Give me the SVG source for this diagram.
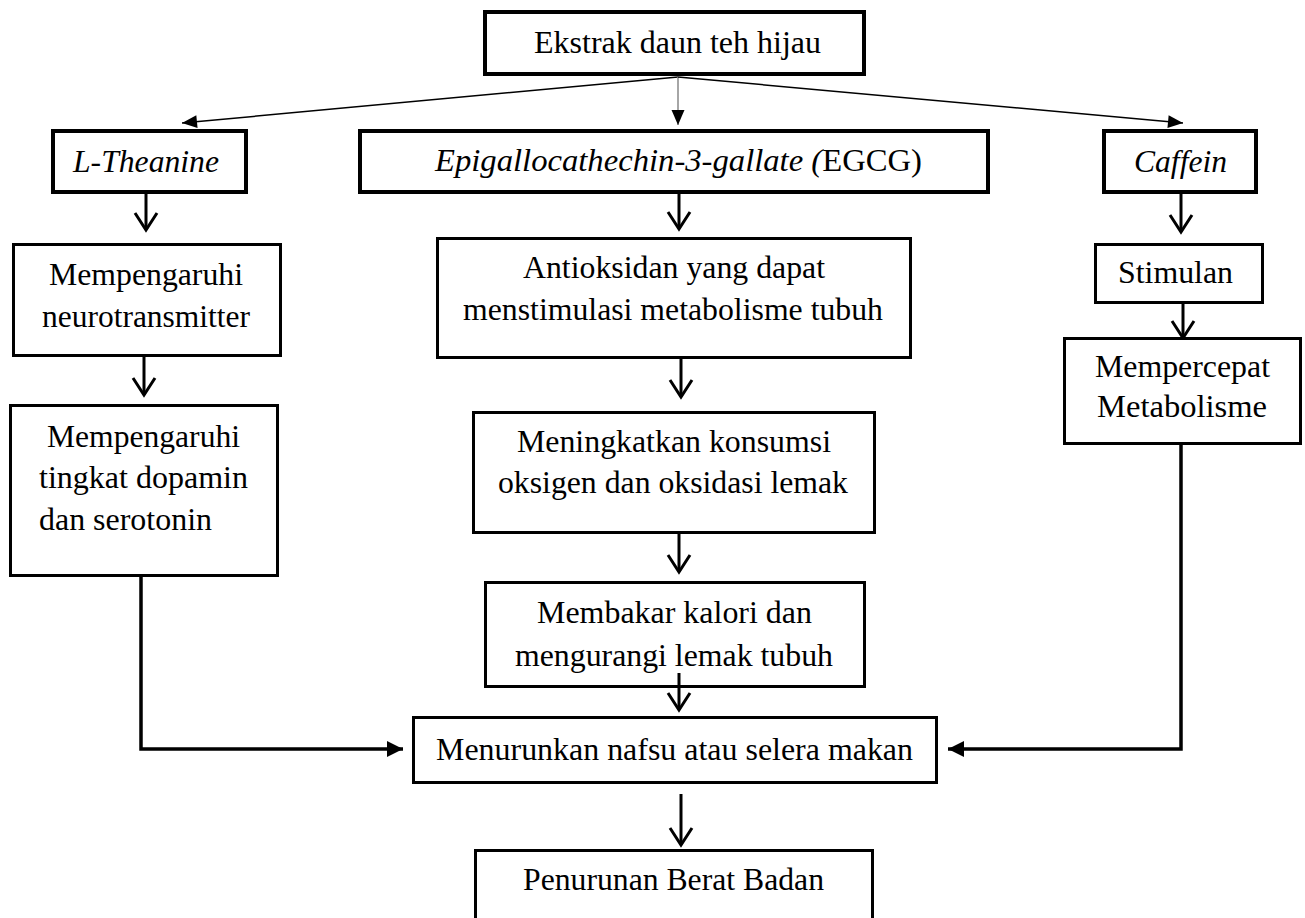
<svg xmlns="http://www.w3.org/2000/svg" width="1305" height="918" viewBox="0 0 1305 918">
<style>
.box{fill:#fff;stroke:#000;stroke-width:3}
.bx4{fill:#fff;stroke:#000;stroke-width:4}
.t{font-family:"Liberation Serif","Times New Roman",serif;font-size:31px;fill:#000}
.it{font-style:italic}
.thin{stroke:#000;stroke-width:1.5;fill:none}
.v{stroke:#000;stroke-width:3;fill:none}
.el{stroke:#000;stroke-width:3.5;fill:none}
</style>
<defs>
<marker id="tri" markerUnits="userSpaceOnUse" viewBox="-16 -8 17 16" markerWidth="17" markerHeight="16" refX="0" refY="0" orient="auto" overflow="visible"><path d="M-15,-6.5 L0,0 L-15,6.5 Z" fill="#000"/></marker>
<marker id="triL" markerUnits="userSpaceOnUse" viewBox="-17 -9 18 18" markerWidth="18" markerHeight="18" refX="0" refY="0" orient="auto" overflow="visible"><path d="M-16,-8 L0,0 L-16,8 Z" fill="#000"/></marker>
<marker id="vee" markerUnits="userSpaceOnUse" viewBox="-20 -14 22 28" markerWidth="22" markerHeight="28" refX="0" refY="0" orient="auto" overflow="visible"><path d="M-17,-11 L0,0 L-17,11" fill="none" stroke="#000" stroke-width="3"/></marker>
</defs>

<g id="connectors">
<line class="thin" x1="678" y1="77" x2="182" y2="123" marker-end="url(#tri)"/>
<line x1="678" y1="77" x2="678" y2="125" stroke="#888" stroke-width="1.5" marker-end="url(#tri)"/>
<line class="thin" x1="678" y1="77" x2="1183" y2="123" marker-end="url(#tri)"/>
<line class="v" x1="146" y1="194" x2="146" y2="230" marker-end="url(#vee)"/>
<line class="v" x1="679" y1="194" x2="679" y2="229" marker-end="url(#vee)"/>
<line class="v" x1="1181" y1="194" x2="1181" y2="232" marker-end="url(#vee)"/>
<line class="v" x1="144" y1="357" x2="144" y2="395" marker-end="url(#vee)"/>
<line class="v" x1="681" y1="359" x2="681" y2="397" marker-end="url(#vee)"/>
<line class="v" x1="679" y1="534" x2="679" y2="572" marker-end="url(#vee)"/>
<line class="v" x1="1183" y1="304" x2="1183" y2="338" marker-end="url(#vee)"/>
<line class="v" x1="681" y1="794" x2="681" y2="845" stroke-width="2.5" marker-end="url(#vee)"/>
<path class="el" d="M141,562 V749 H403" marker-end="url(#triL)"/>
<path class="el" d="M1181,445 V749 H948" marker-end="url(#triL)"/>
</g>

<g id="n-ekstrak"><rect class="bx4" x="485" y="12" width="379" height="62"/>
<text class="t" x="534" y="53" textLength="287" lengthAdjust="spacingAndGlyphs">Ekstrak daun teh hijau</text></g>

<g id="n-theanine"><rect class="bx4" x="53" y="131" width="193" height="61"/>
<text class="t it" x="73" y="172" textLength="146" lengthAdjust="spacingAndGlyphs">L-Theanine</text></g>

<g id="n-egcg"><rect class="bx4" x="360" y="131" width="628" height="61"/>
<text class="t" x="435" y="171" textLength="487" lengthAdjust="spacingAndGlyphs"><tspan class="it">Epigallocathechin-3-gallate (</tspan>EGCG)</text></g>

<g id="n-caffein"><rect class="bx4" x="1104" y="131" width="152" height="61"/>
<text class="t it" x="1134" y="172" textLength="93" lengthAdjust="spacingAndGlyphs">Caffein</text></g>

<g id="n-neuro"><rect class="box" x="13.5" y="244.5" width="267" height="111"/>
<text class="t" x="49" y="285" textLength="194" lengthAdjust="spacingAndGlyphs">Mempengaruhi</text>
<text class="t" x="42" y="327" textLength="208" lengthAdjust="spacingAndGlyphs">neurotransmitter</text></g>

<g id="n-antioksidan"><rect class="box" x="437.5" y="238.5" width="473" height="119"/>
<text class="t" x="523" y="278" textLength="302" lengthAdjust="spacingAndGlyphs">Antioksidan yang dapat</text>
<text class="t" x="463" y="320" textLength="420" lengthAdjust="spacingAndGlyphs">menstimulasi metabolisme tubuh</text></g>

<g id="n-stimulan"><rect class="box" x="1095.5" y="244.5" width="167" height="58"/>
<text class="t" x="1118" y="283" textLength="115" lengthAdjust="spacingAndGlyphs">Stimulan</text></g>

<g id="n-mempercepat"><rect class="box" x="1064.5" y="338.5" width="236" height="105"/>
<text class="t" x="1095" y="377" textLength="175" lengthAdjust="spacingAndGlyphs">Mempercepat</text>
<text class="t" x="1097" y="417" textLength="170" lengthAdjust="spacingAndGlyphs">Metabolisme</text></g>

<g id="n-dopamin"><rect class="box" x="10.5" y="405.5" width="267" height="170"/>
<text class="t" x="47" y="447" textLength="193" lengthAdjust="spacingAndGlyphs">Mempengaruhi</text>
<text class="t" x="39" y="488" textLength="209" lengthAdjust="spacingAndGlyphs">tingkat dopamin</text>
<text class="t" x="39" y="530" textLength="173" lengthAdjust="spacingAndGlyphs">dan serotonin</text></g>

<g id="n-meningkatkan"><rect class="box" x="473.5" y="412.5" width="401" height="120"/>
<text class="t" x="517" y="452" textLength="314" lengthAdjust="spacingAndGlyphs">Meningkatkan konsumsi</text>
<text class="t" x="498" y="493" textLength="350" lengthAdjust="spacingAndGlyphs">oksigen dan oksidasi lemak</text></g>

<g id="n-membakar"><rect class="box" x="485.5" y="582.5" width="379" height="104"/>
<text class="t" x="537" y="623" textLength="275" lengthAdjust="spacingAndGlyphs">Membakar kalori dan</text>
<text class="t" x="515" y="666" textLength="318" lengthAdjust="spacingAndGlyphs">mengurangi lemak tubuh</text></g>

<g id="n-menurunkan"><rect class="box" x="413.5" y="717.5" width="523" height="65"/>
<text class="t" x="436" y="760" textLength="477" lengthAdjust="spacingAndGlyphs">Menurunkan nafsu atau selera makan</text></g>

<g id="n-penurunan"><rect class="box" x="475.5" y="850.5" width="397" height="80"/>
<text class="t" x="523" y="890" textLength="301" lengthAdjust="spacingAndGlyphs">Penurunan Berat Badan</text></g>

<line class="v" x1="679" y1="673" x2="679" y2="710" marker-end="url(#vee)"/>
</svg>
